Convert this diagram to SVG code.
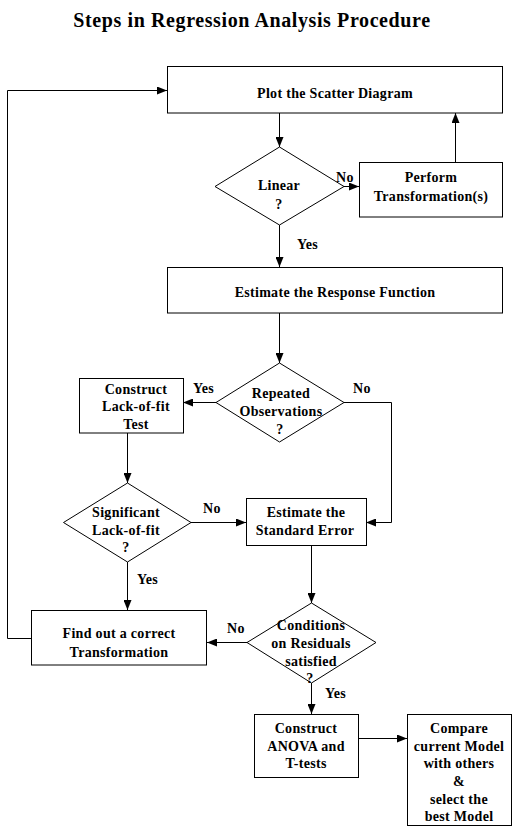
<svg xmlns="http://www.w3.org/2000/svg" width="518" height="834" viewBox="0 0 518 834">
<defs>
<marker id="ah" viewBox="0 0 10 8" refX="10" refY="4" markerWidth="10" markerHeight="8" markerUnits="userSpaceOnUse" orient="auto">
<path d="M0,0 L10,4 L0,8 Z" fill="#000"/>
</marker>
</defs>
<style>
text{font-family:"Liberation Serif","Times New Roman",serif;font-weight:bold;font-size:14px;letter-spacing:0.3px;fill:#000;text-anchor:middle}
.title{font-size:20px;letter-spacing:0.6px}
.shape{fill:#fff;stroke:#000;stroke-width:1}
.conn{fill:none;stroke:#000;stroke-width:1;marker-end:url(#ah)}
.lbl{text-anchor:start}
</style>
<rect width="518" height="834" fill="#fff"/>
<text class="title" x="252" y="27">Steps in Regression Analysis Procedure</text>

<g id="connectors">
<path class="conn" d="M279.5,113 V147"/>
<path class="conn" d="M344,186.5 H359"/>
<path class="conn" d="M455.5,162 V113"/>
<path class="conn" d="M279.5,225 V267"/>
<path class="conn" d="M279.5,313 V363"/>
<path class="conn" d="M216,402.5 H183"/>
<path class="conn" d="M344,402.5 H391.5 V522.5 H366"/>
<path class="conn" d="M127.5,433 V483"/>
<path class="conn" d="M191,522.5 H246"/>
<path class="conn" d="M311.5,546 V603"/>
<path class="conn" d="M127.5,562 V610"/>
<path class="conn" d="M31,638.5 H7.5 V90.5 H167"/>
<path class="conn" d="M247,642.5 H207"/>
<path class="conn" d="M311.5,683 V714"/>
<path class="conn" d="M358,738.5 H407"/>
<text class="lbl" x="336" y="182">No</text>
<text class="lbl" x="297" y="249">Yes</text>
<text class="lbl" x="193" y="393">Yes</text>
<text class="lbl" x="353" y="393">No</text>
<text class="lbl" x="203" y="513">No</text>
<text class="lbl" x="137" y="584">Yes</text>
<text class="lbl" x="227" y="633">No</text>
<text class="lbl" x="325" y="698">Yes</text>
</g>

<g id="plot-scatter">
<rect class="shape" x="167.5" y="66.5" width="335" height="46.5"/>
<text x="335" y="98">Plot the Scatter Diagram</text>
</g>

<g id="linear">
<path class="shape" d="M279.5,147 L344,186.5 L279.5,225 L215,186.5 Z"/>
<text x="279" y="190">Linear</text>
<text x="279" y="209">?</text>
</g>

<g id="perform-transformation">
<rect class="shape" x="359.5" y="162.5" width="143" height="54.5"/>
<text x="431" y="182">Perform</text>
<text x="431" y="201">Transformation(s)</text>
</g>

<g id="estimate-response">
<rect class="shape" x="167.5" y="267.5" width="335" height="45.5"/>
<text x="335" y="297">Estimate the Response Function</text>
</g>

<g id="repeated-observations">
<path class="shape" d="M279.5,363 L344,402.5 L279.5,442 L216,402.5 Z"/>
<text x="281" y="398">Repeated</text>
<text x="281" y="416">Observations</text>
<text x="280" y="434">?</text>
</g>

<g id="lack-of-fit-test">
<rect class="shape" x="79.5" y="378.5" width="104" height="54.5"/>
<text x="136" y="394">Construct</text>
<text x="136" y="411">Lack-of-fit</text>
<text x="136" y="429">Test</text>
</g>

<g id="significant-lack-of-fit">
<path class="shape" d="M127.5,483 L191,522.5 L127.5,562 L63.5,522.5 Z"/>
<text x="126" y="517">Significant</text>
<text x="126" y="535">Lack-of-fit</text>
<text x="126" y="552">?</text>
</g>

<g id="standard-error">
<rect class="shape" x="246.5" y="498.5" width="120" height="47"/>
<text x="306" y="517">Estimate the</text>
<text x="305" y="535">Standard Error</text>
</g>

<g id="find-transformation">
<rect class="shape" x="31.5" y="610.5" width="175" height="54.5"/>
<text x="119" y="638">Find out a correct</text>
<text x="119" y="657">Transformation</text>
</g>

<g id="conditions-residuals">
<path class="shape" d="M311.5,603 L376,642.5 L311.5,683 L247,642.5 Z"/>
<text x="311" y="630">Conditions</text>
<text x="311" y="648">on Residuals</text>
<text x="311" y="666">satisfied</text>
<text x="310" y="683">?</text>
</g>

<g id="anova">
<rect class="shape" x="254.5" y="714.5" width="104" height="63"/>
<text x="306" y="733">Construct</text>
<text x="306" y="751">ANOVA and</text>
<text x="306" y="768">T-tests</text>
</g>

<g id="compare-models">
<rect class="shape" x="407.5" y="714.5" width="104" height="111"/>
<text x="459" y="733">Compare</text>
<text x="459" y="751">current Model</text>
<text x="459" y="768">with others</text>
<text x="459" y="786">&amp;</text>
<text x="459" y="804">select the</text>
<text x="459" y="821">best Model</text>
</g>
</svg>
